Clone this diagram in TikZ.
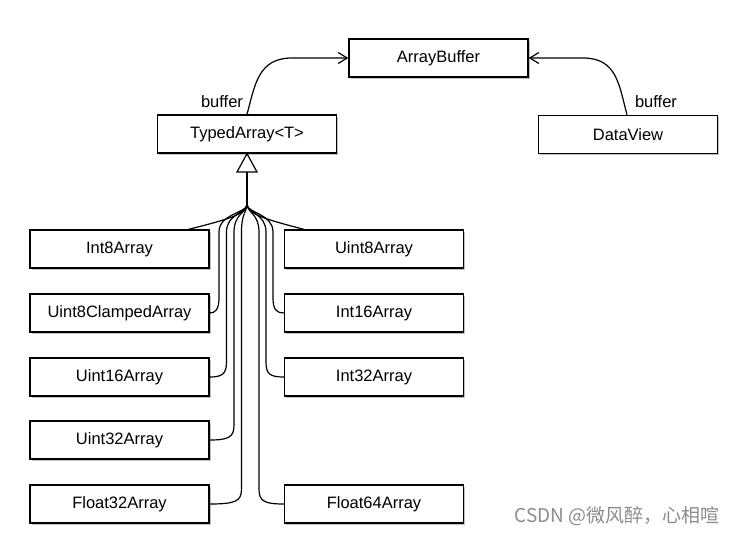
\documentclass[tikz,border=0pt]{standalone}
\usepackage{fontspec}
\setmainfont{Liberation Sans}
\newfontfamily\cjk{Noto Sans CJK SC}
\usetikzlibrary{arrows.meta,shadows}
\begin{document}
\begin{tikzpicture}[x=1pt,y=-1pt,
  box/.style={draw, line width=1.4pt, fill=white, minimum width=179pt, minimum height=38pt,
    inner sep=0pt, font=\fontsize{16.5}{19}\selectfont,
    drop shadow={shadow xshift=1.5pt, shadow yshift=-1.8pt, opacity=0.35, fill=black!70}},
  conn/.style={line width=1.2pt},
  arr/.style={conn, -{Straight Barb[length=9pt,width=11pt,line width=1.2pt]}},
  lbl/.style={font=\fontsize{16.5}{19}\selectfont},
]
\useasboundingbox (0,0) rectangle (738,534);

\node[box] (ab) at (438.5,58) {ArrayBuffer};
\node[box] (ta) at (247,134) {TypedArray<T>};
\node[box] (dv) at (628,134.5) {DataView};

\node[box] (i8)  at (119.5,249) {Int8Array};
\node[box] (u8c) at (119.5,313) {Uint8ClampedArray};
\node[box] (u16) at (119.5,377) {Uint16Array};
\node[box] (u32) at (119.5,440) {Uint32Array};
\node[box] (f32) at (119.5,504) {Float32Array};

\node[box] (u8)  at (374,249) {Uint8Array};
\node[box] (i16) at (374,313) {Int16Array};
\node[box] (i32) at (374,377) {Int32Array};
\node[box] (f64) at (374,504) {Float64Array};

% buffer arrows
\draw[arr] (ta.north) .. controls (255,85) and (258,58) .. (292,58) -- (ab.west);
\draw[arr] ([xshift=-1pt]dv.north) .. controls (619,85) and (617,58) .. (583,58) -- (ab.east);
\node[lbl] (b1) at (222,102) {buffer};
\node[lbl] (b2) at (656,102) {buffer};

% inheritance triangle
\coordinate (tb) at (247,172);
\coordinate (j) at (247,205);
\draw[conn, fill=white] (ta.south) -- (237,172) -- (257,172) -- cycle;
\draw[conn] (tb) -- (j);

% fan to first row
\draw[conn] (j) .. controls (244,214) and (234,218) .. ([xshift=-21pt]i8.north east);
\draw[conn] (j) .. controls (250,214) and (260,218) .. ([xshift=20pt]u8.north west);

% left branches
\draw[conn] (j) .. controls (246,213) and (219,214) .. (219,232) -- (219,298) .. controls (219,310) and (215,313) .. (u8c.east);
\draw[conn] (j) .. controls (246,213) and (226.5,214) .. (226.5,232) -- (226.5,362) .. controls (226.5,374) and (222,377) .. (u16.east);
\draw[conn] (j) .. controls (246,213) and (234,214) .. (234,232) -- (234,425) .. controls (234,437) and (229,440) .. (u32.east);
\draw[conn] (j) .. controls (246,213) and (241.5,214) .. (241.5,232) -- (241.5,489) .. controls (241.5,501) and (236,504) .. (f32.east);

% right branches
\draw[conn] (j) .. controls (248,213) and (273,214) .. (273,232) -- (273,298) .. controls (273,310) and (277,313) .. (i16.west);
\draw[conn] (j) .. controls (248,213) and (266,214) .. (266,232) -- (266,362) .. controls (266,374) and (270,377) .. (i32.west);
\draw[conn] (j) .. controls (248,213) and (259,214) .. (259,232) -- (259,489) .. controls (259,501) and (264,504) .. (f64.west);

% watermark
\node[font=\cjk\fontsize{19}{22}\selectfont, text=black!45, anchor=east] (wm) at (723,516) {CSDN @微风醉，心相喧};
\end{tikzpicture}
\end{document}
